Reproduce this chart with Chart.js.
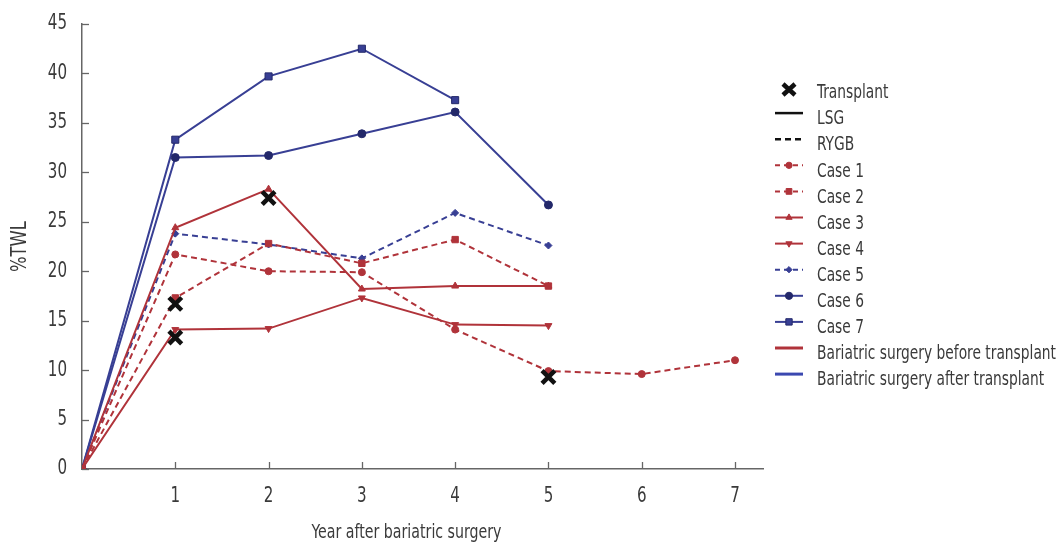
<!DOCTYPE html>
<html><head><meta charset="utf-8">
<script src="https://cdn.jsdelivr.net/npm/chart.js@4"></script>
<style>html,body{margin:0;padding:0;background:#fff}#wrap{width:1059px;height:545px}</style>
</head><body><div id="wrap"><canvas id="c" width="1059" height="545"></canvas></div>
<script>
// ---- data ----
const years = [0, 1, 2, 3, 4, 5, 6, 7];
const case1 = [0, 21.7, 20.0, 19.9, 14.1, 9.9, 9.6, 11.0];
const case2 = [0, 17.3, 22.8, 20.8, 23.2, 18.5];
const case3 = [0, 24.4, 28.3, 18.2, 18.5, 18.5];
const case4 = [0, 14.1, 14.2, 17.3, 14.6, 14.5];
const case5 = [0, 23.8, 22.7, 21.3, 25.9, 22.6];
const case6 = [0, 31.5, 31.7, 33.9, 36.1, 26.7];
const case7 = [0, 33.3, 39.7, 42.5, 37.3];
const transplantYears = [1, 1, 2, 5];
const transplantValues = [16.7, 13.3, 27.4, 9.3];
const xTickValues = [1, 2, 3, 4, 5, 6, 7];
const xTitle = 'Year after bariatric surgery';
const yTitle = '%TWL';
const legendExtra = ['Transplant', 'LSG', 'RYGB', 'Bariatric surgery before transplant', 'Bariatric surgery after transplant'];

// ---- styles ----
const RED = '#b0333a';
const BLUE = '#383f94';
const NAVY = '#23286a';
const FF = '"DejaVu Sans Condensed", "DejaVu Sans", sans-serif';
const TXT = '#3a3a3a';
const AX = '#666666';
const DASH = [6, 4];

const pts = (arr) => arr.map((v, i) => ({x: years[i], y: v}));

const datasets = [
  {label: 'Case 1', data: pts(case1), borderColor: RED, backgroundColor: RED, borderDash: DASH, pointStyle: 'circle', pointRadius: 3.5},
  {label: 'Case 2', data: pts(case2), borderColor: RED, backgroundColor: RED, borderDash: DASH, pointStyle: 'rect', pointRadius: 4.5},
  {label: 'Case 3', data: pts(case3), borderColor: RED, backgroundColor: RED, borderDash: [], pointStyle: 'triangle', pointRadius: 4},
  {label: 'Case 4', data: pts(case4), borderColor: RED, backgroundColor: RED, borderDash: [], pointStyle: 'triangle', pointRotation: 180, pointRadius: 4},
  {label: 'Case 5', data: pts(case5), borderColor: BLUE, backgroundColor: BLUE, borderDash: DASH, pointStyle: 'rectRot', pointRadius: 3.5},
  {label: 'Case 6', data: pts(case6), borderColor: BLUE, backgroundColor: NAVY, borderDash: [], pointStyle: 'circle', pointRadius: 4, pointBorderColor: NAVY},
  {label: 'Case 7', data: pts(case7), borderColor: BLUE, backgroundColor: BLUE, borderDash: [], pointStyle: 'rect', pointRadius: 5, pointBorderColor: NAVY},
].map(d => Object.assign({borderWidth: 2, pointBorderWidth: 1, fill: false, tension: 0, pointBorderColor: d.pointBorderColor || d.borderColor, pointBackgroundColor: d.backgroundColor}, d));

datasets.push({
  label: 'Transplant', type: 'scatter',
  data: transplantYears.map((x, i) => ({x, y: transplantValues[i]})),
  showLine: false, pointStyle: 'crossRot', pointRadius: 9, pointBorderWidth: 4.5,
  borderColor: '#111', backgroundColor: '#111', pointBorderColor: '#111', order: -1
});

// draw text horizontally compressed (imitates a narrow typeface)
function condText(c, s, x, y, sx, align) {
  c.save();
  c.translate(x, y);
  c.scale(sx, 1);
  c.textAlign = align;
  c.fillText(s, 0, 0);
  c.restore();
}

const tickPlugin = {
  id: 'inwardTicks',
  beforeDatasetsDraw(chart) {
    const c = chart.ctx, x = chart.scales.x, y = chart.scales.y, a = chart.chartArea;
    c.save();
    c.strokeStyle = AX; c.lineWidth = 1.3;
    xTickValues.forEach(v => {
      const px = Math.round(x.getPixelForValue(v)) + 0.5;
      c.beginPath(); c.moveTo(px, a.bottom); c.lineTo(px, a.bottom - 7); c.stroke();
    });
    y.ticks.forEach(t => {
      const py = Math.round(y.getPixelForValue(t.value)) + 0.5;
      c.beginPath(); c.moveTo(a.left, py); c.lineTo(a.left + 7, py); c.stroke();
    });
    // tick labels
    c.fillStyle = TXT;
    c.font = '21px ' + FF;
    c.textBaseline = 'middle';
    const dsx = 0.8;
    xTickValues.forEach(v => condText(c, String(v), x.getPixelForValue(v), a.bottom + 28, dsx, 'center'));
    y.ticks.forEach(t => condText(c, String(t.value), a.left - 15, y.getPixelForValue(t.value), dsx, 'right'));
    c.restore();
  },
  afterDraw(chart) {
    const c = chart.ctx, x = chart.scales.x, y = chart.scales.y, a = chart.chartArea;
    c.save();
    c.fillStyle = TXT;
    c.textBaseline = 'middle';
    c.font = '20px ' + FF;
    let sx = 190 / c.measureText(xTitle).width;
    condText(c, xTitle, x.getPixelForValue(3.5) - 2, a.bottom + 64, sx, 'center');
    c.font = '22px ' + FF;
    sx = 51 / c.measureText(yTitle).width;
    c.save();
    c.translate(20, (a.top + a.bottom) / 2);
    c.rotate(-Math.PI / 2);
    condText(c, yTitle, 0, 0, sx, 'center');
    c.restore();

    // legend
    const lx = a.right + 12, tx = a.right + 54, step = 26.1;
    let ry = a.top + 66;
    c.font = '20px ' + FF;
    const lsx = 239 / c.measureText(legendExtra[3]).width;
    const line = (color, dash, w, yy) => {
      c.save(); c.strokeStyle = color; c.lineWidth = w; c.setLineDash(dash);
      c.beginPath(); c.moveTo(lx, yy); c.lineTo(lx + 28, yy); c.stroke(); c.restore();
    };
    const text = (s, yy) => { c.fillStyle = TXT; condText(c, s, tx, yy + 3, lsx, 'left'); };
    // Transplant
    c.save(); c.strokeStyle = '#111'; c.lineWidth = 4.5;
    c.beginPath(); c.moveTo(lx + 8, ry - 6); c.lineTo(lx + 20, ry + 5); c.moveTo(lx + 20, ry - 6); c.lineTo(lx + 8, ry + 5); c.stroke(); c.restore();
    text(legendExtra[0], ry); ry += step;
    line('#111', [], 2.5, ry - 3); text(legendExtra[1], ry); ry += step;
    line('#111', [6, 4], 2.5, ry - 3); text(legendExtra[2], ry); ry += step;
    datasets.slice(0, 7).forEach(d => {
      line(d.borderColor, d.borderDash.length ? [5, 4] : [], 2, ry - 3);
      c.save();
      c.fillStyle = d.pointBackgroundColor; c.strokeStyle = d.pointBorderColor; c.lineWidth = 1;
      Chart.helpers.drawPoint(c, {pointStyle: d.pointStyle, radius: d.pointRadius * 0.9, rotation: d.pointRotation || 0, borderWidth: 1}, lx + 14, ry - 3);
      c.restore();
      text(d.label, ry); ry += step;
    });
    line(RED, [], 3, ry - 3); text(legendExtra[3], ry); ry += step;
    line('#3b48b0', [], 3, ry - 3); text(legendExtra[4], ry);
    c.restore();
  }
};

new Chart(document.getElementById('c'), {
  type: 'line',
  data: {datasets},
  options: {
    responsive: false, animation: false,
    layout: {padding: {top: 24, right: 296, left: 0, bottom: 0}},
    plugins: {legend: {display: false}, tooltip: {enabled: false}},
    scales: {
      x: {
        type: 'linear', min: 0, max: 7.3,
        afterFit: s => { s.height = 76; },
        afterBuildTicks: s => { s.ticks = xTickValues.map(v => ({value: v})); },
        grid: {display: true, drawOnChartArea: false, drawTicks: false},
        border: {display: true, color: AX, width: 1.5},
        ticks: {display: false}
      },
      y: {
        min: 0, max: 45,
        afterFit: s => { s.width = 82; },
        grid: {display: true, drawOnChartArea: false, drawTicks: false},
        border: {display: true, color: AX, width: 1.5},
        ticks: {stepSize: 5, display: false}
      }
    }
  },
  plugins: [tickPlugin]
});
</script>
</body></html>
